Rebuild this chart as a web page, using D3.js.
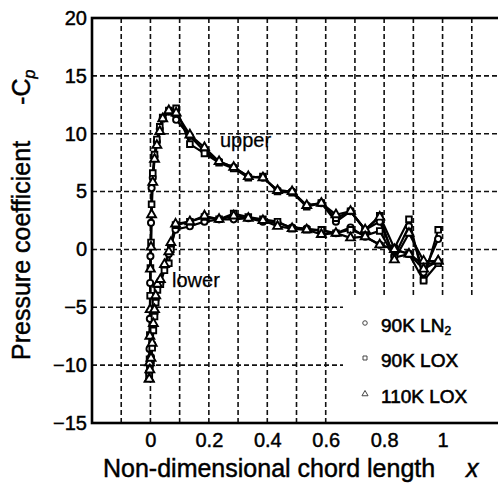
<!DOCTYPE html>
<html>
<head>
<meta charset="utf-8">
<script src="https://cdn.jsdelivr.net/npm/d3@7"></script>
<style>
  body { margin: 0; background: #fff; }
  svg { display: block; font-family: Arial, "Liberation Sans", sans-serif; }
  /* the scan is heavy, so thicken the glyphs a little */
  text { stroke: #000; stroke-width: 0.45px; }
</style>
</head>
<body>
<div id="chart"></div>
<script>
// ---- data ----
var xTicks = [0, 0.2, 0.4, 0.6, 0.8, 1];
var yTicks = [-15, -10, -5, 0, 5, 10, 15, 20];
var xGrid = [-0.1, 0, 0.1, 0.2, 0.3, 0.4, 0.5, 0.6, 0.7, 0.8, 0.9, 1, 1.1];
var yGrid = [-10, -5, 0, 5, 10, 15];

var seriesNames = ["90K LN", "90K LOX", "110K LOX"];

// upper surface stations (chord fraction)
var upperX = [-0.004, -0.003, -0.002, -0.001, 0.000, 0.002, 0.004, 0.008, 0.014, 0.022, 0.032, 0.042,
              0.063, 0.088, 0.135, 0.185, 0.235, 0.285, 0.335, 0.385, 0.435, 0.485, 0.535, 0.585,
              0.635, 0.685, 0.735, 0.785, 0.835, 0.885, 0.935, 0.985];
var upperLN2_90 = [-10.6, -8.6, -6.0, -2.9, -0.6, 2.3, 5.3, 6.2, 8.0, 9.3, 10.4, 11.3,
                   11.9, 11.2, 9.8, 8.5, 7.6, 7.1, 6.3, 6.2, 5.1, 5.0, 3.8, 4.0,
                   2.4, 3.3, 1.7, 2.4, -0.6, 2.0, -2.0, 0.9];
var upperLOX_90 = [-10.9, -9.5, -7.4, -4.0, -1.6, 0.6, 3.9, 6.6, 8.2, 9.5, 10.6, 11.4,
                   12.0, 12.2, 9.1, 8.3, 7.5, 7.0, 6.2, 6.3, 5.0, 4.9, 3.7, 4.0,
                   2.7, 3.3, 1.7, 2.9, 0.1, 2.6, -2.6, 1.7];
var upperLOX_110 = [-11.2, -9.8, -7.5, -5.2, -1.7, 0.2, 3.0, 5.8, 7.8, 9.0, 10.2, 11.3,
                    12.0, 11.8, 9.9, 8.8, 7.6, 7.1, 6.3, 6.2, 5.1, 5.0, 3.8, 4.0,
                    3.0, 3.3, 1.7, 2.8, -0.9, 1.4, -1.0, -1.0];

// lower surface stations
var lowerX = [-0.004, -0.002, 0.002, 0.006, 0.010, 0.014, 0.018, 0.024, 0.034, 0.048, 0.063, 0.070,
              0.086, 0.135, 0.185, 0.235, 0.285, 0.335, 0.385, 0.435, 0.485, 0.535, 0.585,
              0.635, 0.685, 0.735, 0.785, 0.835, 0.885, 0.935, 0.985];
var lowerLN2_90 = [-10.6, -10.0, -9.3, -8.2, -6.6, -5.5, -4.3, -3.2, -2.9, -1.5, -0.4, 0.3,
                   1.7, 2.0, 2.4, 2.6, 2.6, 2.7, 2.4, 2.3, 1.9, 1.8, 1.6,
                   1.4, 1.9, 1.1, 0.4, 0.0, -0.4, -1.3, -1.1];
var lowerLOX_90 = [-10.9, -10.2, -9.6, -8.5, -7.0, -5.8, -4.6, -3.5, -3.0, -1.8, -1.2, 0.0,
                   2.1, 2.4, 2.8, 2.6, 3.1, 2.8, 2.6, 2.4, 1.8, 1.7, 1.7,
                   1.4, 1.7, 1.2, 1.6, -0.7, -0.4, -2.7, -1.2];
var lowerLOX_110 = [-11.2, -10.4, -9.4, -8.1, -6.4, -5.2, -4.0, -3.0, -2.6, -1.3, -0.2, 0.6,
                    2.2, 2.4, 2.9, 2.6, 2.9, 2.7, 2.5, 2.0, 1.8, 1.7, 1.3,
                    1.4, 1.0, 1.1, 0.4, 0.0, -0.4, -1.7, -1.0];

// ---- layout ----
var W = 498, H = 486;
var pLeft = 92, pTop = 18, pRight = 501, pBottom = 423;

var svg = d3.select("#chart").append("svg")
    .attr("width", W)
    .attr("height", H);

var x = d3.scaleLinear().domain([-0.2, 1.2]).range([pLeft, pRight]);
var y = d3.scaleLinear().domain([-15, 20]).range([pBottom, pTop]);

// dashed grid
svg.append("g").selectAll("line")
    .data(xGrid).enter().append("line")
    .attr("x1", function(d) { return x(d); })
    .attr("x2", function(d) { return x(d); })
    .attr("y1", pTop).attr("y2", pBottom)
    .attr("stroke", "#111").attr("stroke-width", 1.6)
    .attr("stroke-dasharray", "5,3");
svg.append("g").selectAll("line")
    .data(yGrid).enter().append("line")
    .attr("x1", pLeft).attr("x2", pRight)
    .attr("y1", function(d) { return y(d); })
    .attr("y2", function(d) { return y(d); })
    .attr("stroke", "#111").attr("stroke-width", 1.6)
    .attr("stroke-dasharray", "5,3");

// legend backdrop hides the grid behind it
svg.append("rect")
    .attr("x", 343).attr("y", 295)
    .attr("width", pRight - 343).attr("height", pBottom - 296)
    .attr("fill", "#fff");

// frame
svg.append("rect")
    .attr("x", pLeft).attr("y", pTop)
    .attr("width", pRight - pLeft).attr("height", pBottom - pTop)
    .attr("fill", "none").attr("stroke", "#000").attr("stroke-width", 2.6);

// axes labels
var yAxis = svg.append("g")
    .attr("transform", "translate(" + pLeft + ",0)")
    .call(d3.axisLeft(y).tickValues(yTicks).tickSize(0).tickPadding(5));
var xAxis = svg.append("g")
    .attr("transform", "translate(0," + pBottom + ")")
    .call(d3.axisBottom(x).tickValues(xTicks).tickSize(0).tickPadding(10)
          .tickFormat(d3.format("~g")));
[yAxis, xAxis].forEach(function(g) {
  g.select(".domain").remove();
  g.selectAll("text")
    .attr("font-size", 20)
    .attr("font-family", "Arial, 'Liberation Sans', sans-serif")
    .attr("fill", "#000");
});

// axis titles
var xt = svg.append("text")
    .attr("x", 103).attr("y", 477)
    .attr("font-size", 25).attr("fill", "#000");
xt.append("tspan").text("Non-dimensional chord length");
xt.append("tspan").attr("x", 466).attr("font-style", "italic").text("x");

var yt = svg.append("text")
    .attr("transform", "translate(30,360) rotate(-90)")
    .attr("font-size", 25).attr("fill", "#000");
yt.append("tspan").text("Pressure coefficient");
yt.append("tspan").attr("dx", 36).text("-C");
yt.append("tspan").attr("font-size", 16).attr("font-style", "italic").attr("dy", 5).text("p");

// annotations
svg.append("text").attr("x", 220).attr("y", 147)
    .attr("font-size", 20).style("stroke-width", "0.25px").text("upper");
svg.append("text").attr("x", 172).attr("y", 287)
    .attr("font-size", 20).style("stroke-width", "0.25px").text("lower");

// ---- curves ----
function pts(xs, ys) {
  return xs.map(function(d, i) { return [d, ys[i]]; });
}
var curves = [
  { name: seriesNames[0], sym: d3.symbolCircle,   upper: pts(upperX, upperLN2_90),  lower: pts(lowerX, lowerLN2_90) },
  { name: seriesNames[1], sym: d3.symbolSquare,   upper: pts(upperX, upperLOX_90),  lower: pts(lowerX, lowerLOX_90) },
  { name: seriesNames[2], sym: d3.symbolTriangle, upper: pts(upperX, upperLOX_110), lower: pts(lowerX, lowerLOX_110) }
];

var line = d3.line()
    .x(function(d) { return x(d[0]); })
    .y(function(d) { return y(d[1]); });

curves.forEach(function(c) {
  [c.upper, c.lower].forEach(function(data) {
    svg.append("path")
      .attr("d", line(data))
      .attr("fill", "none")
      .attr("stroke", "#000")
      .attr("stroke-width", 2.2);
  });
});

curves.forEach(function(c) {
  var size = c.sym === d3.symbolCircle ? 30 : (c.sym === d3.symbolSquare ? 32 : 34);
  svg.append("g").selectAll("path")
    .data(c.upper.concat(c.lower)).enter().append("path")
    .attr("transform", function(d) { return "translate(" + x(d[0]) + "," + y(d[1]) + ")"; })
    .attr("d", d3.symbol().type(c.sym).size(size))
    .attr("fill", "#fff")
    .attr("stroke", "#000")
    .attr("stroke-width", 1.9);
});

// ---- legend ----
var legendY = [323, 358, 394];
curves.forEach(function(c, i) {
  svg.append("path")
    .attr("transform", "translate(365," + legendY[i] + ")")
    .attr("d", d3.symbol().type(c.sym).size(16))
    .attr("fill", "#fff")
    .attr("stroke", "#444")
    .attr("stroke-width", 1);
  var t = svg.append("text")
    .attr("x", 381).attr("y", legendY[i] + 9)
    .attr("font-size", 19).attr("fill", "#000")
    .style("stroke-width", "0.6px")
    .text(c.name);
  if (i === 0) {
    t.append("tspan").attr("font-size", 12).attr("dy", 3).text("2");
  }
});
</script>
</body>
</html>
